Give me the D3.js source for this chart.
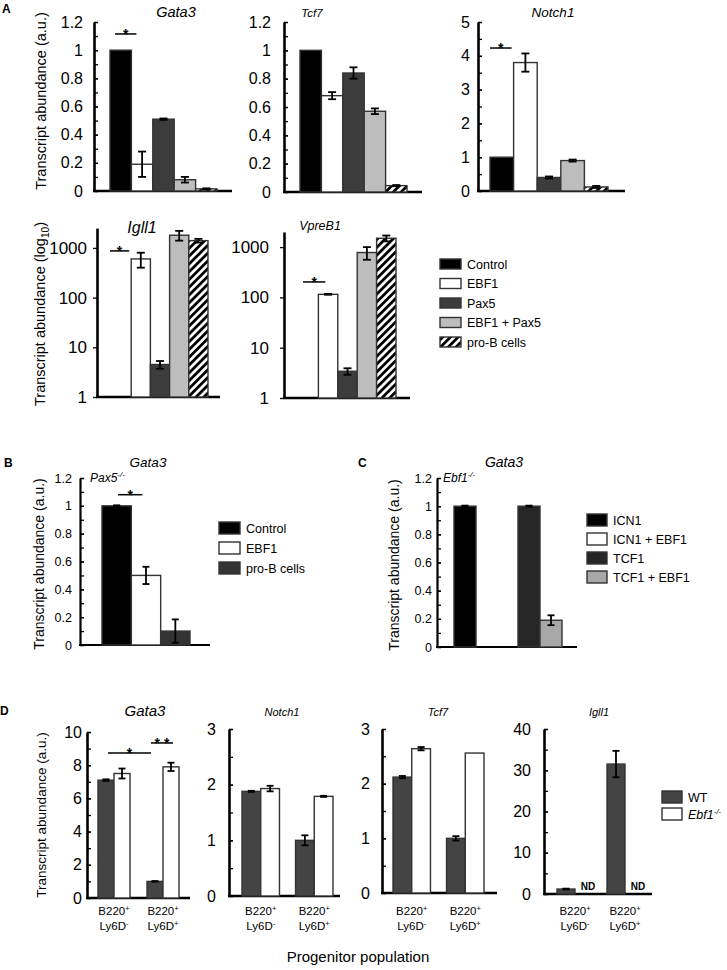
<!DOCTYPE html>
<html><head><meta charset="utf-8">
<script src="https://cdn.jsdelivr.net/npm/d3@7"></script>
<style>body{margin:0;background:#fff} svg{display:block}</style>
</head><body><svg id="c" width="727" height="970"></svg>
<script>
// ---------------- DATA ----------------
// Panel A
const groupsA = ["Control", "EBF1", "Pax5", "EBF1 + Pax5", "pro-B cells"];
const gata3A = [1.0, 0.19, 0.51, 0.08, 0.015];
const gata3AErr = [0, 0.09, 0.005, 0.02, 0.004];
const tcf7A = [1.0, 0.68, 0.84, 0.57, 0.045];
const tcf7AErr = [0, 0.025, 0.04, 0.02, 0.004];
const notch1A = [1.0, 3.8, 0.4, 0.9, 0.12];
const notch1AErr = [0, 0.27, 0.03, 0.03, 0.03];
const igll1A = [1, 600, 4.5, 1800, 1400];
const igll1AErr = [0, 200, 0.8, 400, 120];
const vpreb1A = [1, 115, 3.4, 780, 1500];
const vpreb1AErr = [0, 2, 0.5, 220, 200];
const ticksLinA1 = [0, 0.2, 0.4, 0.6, 0.8, 1, 1.2];
const ticksNotchA = [0, 1, 2, 3, 4, 5];
const ticksLogA = [1, 10, 100, 1000];
// Panel B
const groupsB = ["Control", "EBF1", "pro-B cells"];
const gata3B = [1.0, 0.5, 0.1];
const gata3BErr = [0.004, 0.062, 0.084];
// Panel C
const conditionsC = ["ICN1", "ICN1 + EBF1", "TCF1", "TCF1 + EBF1"];
const driversC = ["ICN1", "ICN1", "TCF1", "TCF1"];
const plusEbf1C = ["no", "yes", "no", "yes"];
const gata3C = [1.0, 0.0, 1.0, 0.19];
const gata3CErr = [0.004, 0, 0.004, 0.035];
const ticksBC = [0, 0.2, 0.4, 0.6, 0.8, 1, 1.2];
// Panel D
const popsD = ["Ly6D-", "Ly6D+"];
const genotypesD = ["WT", "Ebf1-/-"];
const gata3DWT = [7.1, 1.0], gata3DWTErr = [0.05, 0.02];
const gata3DKO = [7.5, 7.9], gata3DKOErr = [0.3, 0.25];
const notch1DWT = [1.88, 1.0], notch1DWTErr = [0.01, 0.09];
const notch1DKO = [1.93, 1.79], notch1DKOErr = [0.05, 0.01];
const tcf7DWT = [2.12, 1.0], tcf7DWTErr = [0.02, 0.04];
const tcf7DKO = [2.64, 2.56], tcf7DKOErr = [0.03, 0.0];
const igll1DWT = [1.2, 31.5], igll1DWTErr = [0.1, 3.2];
const igll1DKO = [null, null]; // not detected
const ticksGata3D = [0, 2, 4, 6, 8, 10];
const ticks3D = [0, 1, 2, 3];
const ticksIgll1D = [0, 10, 20, 30, 40];

// ---------------- DRAWING ----------------
const F = '"Liberation Sans", Arial, Helvetica, sans-serif';
const svg = d3.select("#c");
const defs = svg.append("defs");
const pat = defs.append("pattern").attr("id", "hatch").attr("patternUnits", "userSpaceOnUse")
  .attr("width", 5.5).attr("height", 5.5).attr("patternTransform", "rotate(45)");
pat.append("rect").attr("width", 5.5).attr("height", 5.5).attr("fill", "#fff");
pat.append("rect").attr("width", 2.8).attr("height", 5.5).attr("fill", "#000");

const colorA = d3.scaleOrdinal().domain(groupsA).range(["#000", "#fff", "#3c3c3c", "#bdbdbd", "url(#hatch)"]);
const colorB = d3.scaleOrdinal().domain(groupsB).range(["#000", "#fff", "#333"]);
const colorC = d3.scaleOrdinal().domain(conditionsC).range(["#000", "#fff", "#262626", "#a8a8a8"]);
const colorD = d3.scaleOrdinal().domain(genotypesD).range(["#444", "#fff"]);

function txt(x, y, s, size, opts = {}) {
  const t = svg.append("text").attr("x", x).attr("y", y).attr("font-family", F)
    .attr("font-size", size).attr("fill", "#000").text(s);
  if (opts.anchor) t.attr("text-anchor", opts.anchor);
  if (opts.italic) t.attr("font-style", "italic");
  if (opts.bold) t.attr("font-weight", "bold");
  return t;
}

function axes(y, axisX, xEnd, o) {
  const g = svg.append("g");
  const inner = o.inward === false ? 4 : -4;
  if (o.minors) {
    g.append("g").attr("transform", `translate(${axisX},0)`)
      .call(d3.axisLeft(y).tickValues(o.minors).tickFormat("").tickSizeInner(inner).tickSizeOuter(0))
      .call(s => s.select(".domain").remove())
      .call(s => s.selectAll("line").attr("stroke", "#000").attr("stroke-width", 1.3));
  }
  const ax = g.append("g").attr("transform", `translate(${axisX},0)`)
    .call(d3.axisLeft(y).tickValues(o.majors).tickFormat(o.fmt || d3.format("~g"))
      .tickSizeInner(inner).tickSizeOuter(0).tickPadding(o.pad));
  ax.select(".domain").attr("stroke", "#000").attr("stroke-width", o.w || 2.6);
  ax.selectAll(".tick line").attr("stroke", "#000").attr("stroke-width", 1.3);
  ax.selectAll("text").attr("font-size", o.fs).attr("font-family", F).attr("fill", "#000");
  const base = y.range()[0];
  g.append("line").attr("x1", axisX - 1).attr("x2", xEnd).attr("y1", base).attr("y2", base)
    .attr("stroke", "#000").attr("stroke-width", o.w || 2.6);
}

function bars(items, y, base, capW) {
  const g = svg.append("g");
  items.filter(d => d.v != null && y(d.v) < base - 0.1).forEach(d => {
    g.append("rect").attr("x", d.x).attr("width", d.w).attr("y", y(d.v)).attr("height", base - y(d.v))
      .attr("fill", d.fill).attr("stroke", "#333").attr("stroke-width", 1.4);
  });
  items.filter(d => d.v != null && d.e > 0).forEach(d => {
    const cx = d.x + d.w / 2;
    const y1 = y(d.v + d.e), y2 = y(Math.max(d.v - d.e, y.domain()[0]));
    g.append("line").attr("x1", cx).attr("x2", cx).attr("y1", y1).attr("y2", y2).attr("stroke", "#000").attr("stroke-width", 1.8);
    [y1, y2].forEach(yy => g.append("line").attr("x1", cx - capW / 2).attr("x2", cx + capW / 2)
      .attr("y1", yy).attr("y2", yy).attr("stroke", "#000").attr("stroke-width", 1.8));
  });
}

function bracket(x1, x2, yy, label, size = 14) {
  svg.append("line").attr("x1", x1).attr("x2", x2).attr("y1", yy).attr("y2", yy)
    .attr("stroke", "#000").attr("stroke-width", 1.5);
  txt((x1 + x2) / 2, yy + 5, label, size, { anchor: "middle", bold: true });
}

function ylabel(x, y, parts, size) {
  const t = svg.append("text").attr("transform", `translate(${x},${y}) rotate(-90)`)
    .attr("text-anchor", "middle").attr("font-family", F).attr("font-size", size).attr("fill", "#000");
  parts.forEach(p => {
    const s = t.append("tspan").text(p.t);
    if (p.sub) s.attr("font-size", size * 0.7).attr("dy", 4);
    if (p.back) s.attr("dy", -4);
  });
}

function legend(x, y0, dy, labels, color, sw, sh, fs) {
  labels.forEach((l, i) => {
    const cy = y0 + i * dy;
    svg.append("rect").attr("x", x).attr("y", cy - sh / 2).attr("width", sw).attr("height", sh)
      .attr("fill", color(l)).attr("stroke", "#333").attr("stroke-width", 1.4);
    txt(x + sw + 6, cy + fs * 0.36, l, fs);
  });
}

// ----- Panel A, top row -----
txt(2, 13, "A", 12, { bold: true });
const topA = [
  { title: "Gata3", tx: 176, tfs: 14.5, v: gata3A, e: gata3AErr, axisX: 94, xEnd: 232, r: [110, 217], y0: 191, y1: 22, dom: [0, 1.2], majors: ticksLinA1, minors: d3.range(0, 1.25, 0.1), pad: 11 },
  { title: "Tcf7", tx: 312, tfs: 11.5, v: tcf7A, e: tcf7AErr, axisX: 284, xEnd: 422, r: [300, 407], y0: 192, y1: 22, dom: [0, 1.2], majors: ticksLinA1, minors: d3.range(0, 1.25, 0.1), pad: 13 },
  { title: "Notch1", tx: 553, tfs: 13.5, v: notch1A, e: notch1AErr, axisX: 478, xEnd: 625, r: [490, 608], y0: 191, y1: 22, dom: [0, 5], majors: ticksNotchA, minors: d3.range(0, 5.1, 0.5), pad: 8 }
];
const scalesTopA = topA.map(c => {
  const y = d3.scaleLinear().domain(c.dom).range([c.y0, c.y1]);
  const x = d3.scaleBand().domain(groupsA).range(c.r);
  axes(y, c.axisX, c.xEnd, { majors: c.majors, minors: c.minors, pad: c.pad, fs: 16 });
  bars(groupsA.map((gname, i) => ({ x: x(gname), w: x.bandwidth(), v: c.v[i], e: c.e[i], fill: colorA(gname) })), y, c.y0, 8);
  txt(c.tx, 17, c.title, c.tfs, { anchor: "middle", italic: true });
  return { x, y };
});
bracket(scalesTopA[0].x("Control") + 5, scalesTopA[0].x("EBF1") + 5, scalesTopA[0].y(1.115), "*");
bracket(scalesTopA[2].x("Control"), scalesTopA[2].x("EBF1") - 2, scalesTopA[2].y(4.23), "*");
ylabel(46, 101, [{ t: "Transcript abundance (a.u.)" }], 14.5);

// ----- Panel A, bottom row (log) -----
const botA = [
  { title: "Igll1", tx: 142, ty: 233, tfs: 16, v: igll1A, e: igll1AErr, axisX: 97, xEnd: 220, r: [112, 208], y0: 397, top: 2500, pad: 6 },
  { title: "VpreB1", tx: 320, ty: 230, tfs: 12.5, v: vpreb1A, e: vpreb1AErr, axisX: 284, xEnd: 410, r: [299, 396], y0: 398, top: 2000, pad: 11 }
];
const scalesBotA = botA.map(c => {
  const decade = c === botA[0] ? 49.7 : 50.3;
  const y = d3.scaleLog().domain([1, c.top]).range([c.y0, c.y0 - decade * Math.log10(c.top)]);
  const x = d3.scaleBand().domain(groupsA).range(c.r);
  axes(y, c.axisX, c.xEnd, { majors: ticksLogA, pad: c.pad, fs: 17, inward: false, fmt: d3.format("d") });
  bars(groupsA.map((gname, i) => ({ x: x(gname), w: x.bandwidth(), v: c.v[i], e: c.e[i], fill: colorA(gname) })), y, c.y0, 8);
  txt(c.tx, c.ty, c.title, c.tfs, { anchor: "middle", italic: true });
  return { x, y };
});
bracket(scalesBotA[0].x("Control") - 2, scalesBotA[0].x("EBF1") - 2, scalesBotA[0].y(870), "*");
bracket(scalesBotA[1].x("Control") + 4, scalesBotA[1].x("EBF1") + 7, scalesBotA[1].y(203), "*");
ylabel(45, 314, [{ t: "Transcript abundance (log" }, { t: "10", sub: true }, { t: ")", back: true }], 14.5);
legend(440, 264, 19.5, groupsA, colorA, 21, 10, 12.5);

// ----- Panel B -----
txt(4, 467, "B", 12, { bold: true });
txt(148, 467, "Gata3", 13.5, { anchor: "middle", italic: true });
{
  const y = d3.scaleLinear().domain([0, 1.2]).range([645, 478]);
  const x = d3.scaleBand().domain(groupsB).range([102, 190]);
  axes(y, 80, 210, { majors: ticksBC, minors: d3.range(0, 1.25, 0.1), pad: 8, fs: 12.5, w: 2.2 });
  bars(groupsB.map((gname, i) => ({ x: x(gname), w: x.bandwidth(), v: gata3B[i], e: gata3BErr[i], fill: colorB(gname) })), y, 645, 7);
  bracket(x("Control") + 16, x("EBF1") + 11, y(1.08), "*");
  const t = txt(90, 482, "Pax5", 12, { italic: true });
  t.append("tspan").attr("dy", -5).attr("font-size", 8).text("-/-");
}
ylabel(44, 564, [{ t: "Transcript abundance (a.u.)" }], 14);
legend(219, 528, 20, groupsB, colorB, 21, 12, 12.5);

// ----- Panel C -----
txt(358, 467, "C", 12, { bold: true });
txt(504, 467, "Gata3", 14, { anchor: "middle", italic: true });
{
  const y = d3.scaleLinear().domain([0, 1.2]).range([647, 478]);
  const xo = d3.scaleBand().domain(["ICN1", "TCF1"]).range([454, 562]).paddingInner(0.3125);
  const xi = d3.scaleBand().domain(["no", "yes"]).range([0, xo.bandwidth()]);
  axes(y, 437, 577, { majors: ticksBC, minors: d3.range(0, 1.25, 0.1), pad: 5, fs: 12.5, w: 2.2 });
  bars(conditionsC.map((c, i) => ({ x: xo(driversC[i]) + xi(plusEbf1C[i]), w: xi.bandwidth(), v: gata3C[i], e: gata3CErr[i], fill: colorC(c) })), y, 647, 7);
  const t = txt(443, 482, "Ebf1", 12, { italic: true });
  t.append("tspan").attr("dy", -5).attr("font-size", 8).text("-/-");
}
ylabel(399, 565, [{ t: "Transcript abundance (a.u.)" }], 14);
legend(587, 520, 19, conditionsC, colorC, 20, 12, 12.5);

// ----- Panel D -----
txt(0, 715, "D", 12, { bold: true });
const chartsD = [
  { title: "Gata3", tx: 145, tfs: 15, wt: gata3DWT, wtE: gata3DWTErr, ko: gata3DKO, koE: gata3DKOErr, axisX: 87, xEnd: 190, r: [98, 179], pin: 0.347, y0: 898, y1: 732, dom: [0, 10], majors: ticksGata3D, minors: d3.range(0, 10.5, 1), pad: 5 },
  { title: "Notch1", tx: 282, tfs: 11, wt: notch1DWT, wtE: notch1DWTErr, ko: notch1DKO, koE: notch1DKOErr, axisX: 229, xEnd: 340, r: [242, 333], pin: 0.3, y0: 896, y1: 729, dom: [0, 3], majors: ticks3D, minors: d3.range(0, 3.1, 0.5), pad: 13 },
  { title: "Tcf7", tx: 438, tfs: 11, wt: tcf7DWT, wtE: tcf7DWTErr, ko: tcf7DKO, koE: tcf7DKOErr, axisX: 382, xEnd: 497, r: [393, 484], pin: 0.3, y0: 893, y1: 729, dom: [0, 3], majors: ticks3D, minors: d3.range(0, 3.1, 0.5), pad: 12 },
  { title: "Igll1", tx: 599, tfs: 11, wt: igll1DWT, wtE: igll1DWTErr, ko: igll1DKO, koE: [0, 0], axisX: 544, xEnd: 652, r: [557, 643], pin: 0.28, y0: 894, y1: 729, dom: [0, 40], majors: ticksIgll1D, minors: d3.range(0, 41, 5), pad: 13 }
];
const scalesD = chartsD.map(c => {
  const y = d3.scaleLinear().domain(c.dom).range([c.y0, c.y1]);
  const xo = d3.scaleBand().domain(popsD).range(c.r).paddingInner(c.pin);
  const xi = d3.scaleBand().domain(genotypesD).range([0, xo.bandwidth()]);
  axes(y, c.axisX, c.xEnd, { majors: c.majors, minors: c.minors, pad: c.pad, fs: 16 });
  const items = [];
  popsD.forEach((p, i) => {
    items.push({ x: xo(p) + xi("WT"), w: xi.bandwidth(), v: c.wt[i], e: c.wtE[i], fill: colorD("WT") });
    items.push({ x: xo(p) + xi("Ebf1-/-"), w: xi.bandwidth(), v: c.ko[i], e: c.koE[i], fill: colorD("Ebf1-/-") });
  });
  bars(items, y, c.y0, 7);
  popsD.forEach((p, i) => {
    if (c.ko[i] == null) txt(xo(p) + xi("Ebf1-/-") + xi.bandwidth() / 2 + 4, c.y0 - 4, "ND", 10, { anchor: "middle", bold: true });
    const cx = xo(p) + xo.bandwidth() / 2;
    const t1 = txt(cx, 915, "B220", 11.5, { anchor: "middle" });
    t1.append("tspan").attr("dy", -4).attr("font-size", 7.5).text("+");
    const t2 = txt(cx, 930, p.slice(0, 4), 11.5, { anchor: "middle" });
    t2.append("tspan").attr("dy", -4).attr("font-size", 7.5).text(p.slice(4));
  });
  txt(c.tx, 716, c.title, c.tfs, { anchor: "middle", italic: true });
  return { xo, y };
});
bracket(scalesD[0].xo("Ly6D-") + 10, scalesD[0].xo("Ly6D+") + 4, scalesD[0].y(8.73), "*");
bracket(scalesD[0].xo("Ly6D+") + 4, scalesD[0].xo("Ly6D+") + 26, scalesD[0].y(9.34), "* *");
ylabel(46, 815, [{ t: "Transcript abundance (a.u.)" }], 13.5);
txt(358, 962, "Progenitor population", 15, { anchor: "middle" });
// legend D
genotypesD.forEach((gname, i) => {
  const cy = 797 + i * 17;
  svg.append("rect").attr("x", 662).attr("y", cy - 6).attr("width", 20).attr("height", 12)
    .attr("fill", colorD(gname)).attr("stroke", "#333").attr("stroke-width", 1.4);
  const t = txt(688, cy + 4.5, gname === "WT" ? "WT" : "Ebf1", 12.5, { italic: gname !== "WT" });
  if (gname !== "WT") t.append("tspan").attr("dy", -5).attr("font-size", 8).text("-/-");
});
</script></body></html>
